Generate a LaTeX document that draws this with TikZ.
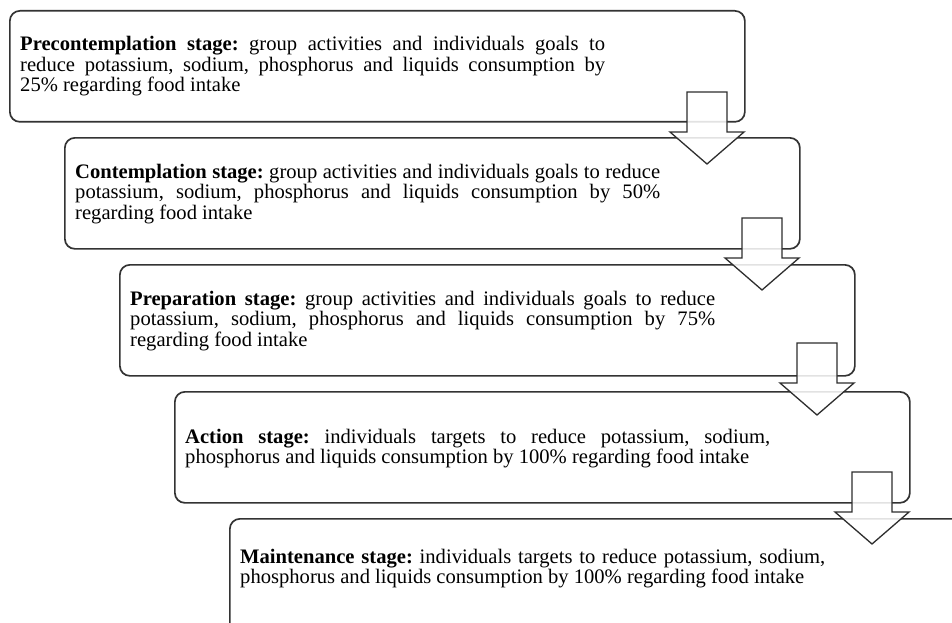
\documentclass[tikz,border=0pt]{standalone}
\usepackage{fontspec}
\setmainfont{Liberation Serif}
\frenchspacing
\newcommand\jline[1]{\makebox[585pt][s]{#1}\par}
\newcommand\stagetext[1]{\vtop{\hsize=585pt\parindent=0pt\baselineskip=20.6pt\lineskiplimit=-20pt\frenchspacing #1}}
\newcommand\blockarrow[2]{\draw[arrowshape] (#1-20,#2) -- (#1+20,#2) -- (#1+20,#2+40) -- (#1+37,#2+40) -- (#1,#2+72) -- (#1-37,#2+40) -- (#1-20,#2+40) -- cycle;}
\begin{document}
\begin{tikzpicture}[x=1pt,y=-1pt,
  stagebox/.style={draw=black!80, line width=1.7pt, rounded corners=10pt, rectangle,
    inner sep=0pt, anchor=north west, minimum width=735pt, minimum height=111pt},
  stagetxt/.style={inner sep=0pt, anchor=base west, font=\fontsize{20.6pt}{20.6pt}\selectfont},
  arrowshape/.style={draw=black!82, line width=1.3pt, fill=white, fill opacity=0.86, line join=miter}]
\useasboundingbox (0,0) rectangle (952,623);
\clip (0,0) rectangle (952,623);
\fill[white] (0,0) rectangle (952,623);

\node[stagebox] (b1) at (9,10) {};
\node[stagebox] (b2) at (64,137) {};
\node[stagebox] (b3) at (119,264) {};
\node[stagebox] (b4) at (174,391) {};
\node[stagebox, minimum width=800pt, minimum height=200pt] (b5) at (229,518) {};

\node[stagetxt] (t1) at (20,50.7) {\stagetext{%
\jline{\textbf{Precontemplation stage:} group activities and individuals goals to}%
\jline{reduce potassium, sodium, phosphorus and liquids consumption by}%
25\% regarding food intake\par}};
\node[stagetxt] (t2) at (75,178) {\stagetext{%
\jline{\textbf{Contemplation stage:} group activities and individuals goals to reduce}%
\jline{potassium, sodium, phosphorus and liquids consumption by 50\%}%
regarding food intake\par}};
\node[stagetxt] (t3) at (130,305) {\stagetext{%
\jline{\textbf{Preparation stage:} group activities and individuals goals to reduce}%
\jline{potassium, sodium, phosphorus and liquids consumption by 75\%}%
regarding food intake\par}};
\node[stagetxt] (t4) at (185,443) {\stagetext{%
\jline{\textbf{Action stage:} individuals targets to reduce potassium, sodium,}%
phosphorus and liquids consumption by 100\% regarding food intake\par}};
\node[stagetxt] (t5) at (240,563) {\stagetext{%
\jline{\textbf{Maintenance stage:} individuals targets to reduce potassium, sodium,}%
phosphorus and liquids consumption by 100\% regarding food intake\par}};

\blockarrow{707}{92}
\blockarrow{762}{218}
\blockarrow{817}{343}
\blockarrow{872}{472}
\end{tikzpicture}
\end{document}
